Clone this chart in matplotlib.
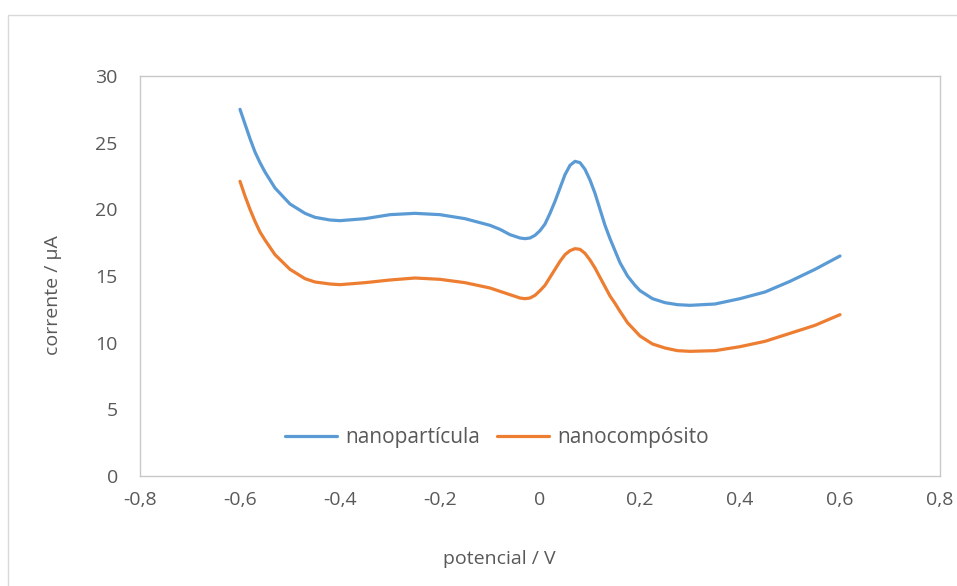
import matplotlib
matplotlib.use('Agg')
import matplotlib.pyplot as plt
from matplotlib.patches import Rectangle

# potential (V) and current (uA)
potencial = [-0.60, -0.59, -0.58, -0.57, -0.56, -0.55, -0.53, -0.50, -0.47, -0.45,
             -0.42, -0.40, -0.35, -0.30, -0.25, -0.20, -0.15, -0.10, -0.08, -0.06,
             -0.04, -0.03, -0.02, -0.01, 0.00, 0.01, 0.02, 0.03, 0.04, 0.05,
             0.06, 0.07, 0.08, 0.09, 0.10, 0.11, 0.12, 0.13, 0.14, 0.15,
             0.16, 0.175, 0.19, 0.20, 0.225, 0.25, 0.275, 0.30, 0.35, 0.40,
             0.45, 0.50, 0.55, 0.60]

nanoparticula = [27.5, 26.4, 25.3, 24.3, 23.5, 22.8, 21.6, 20.4, 19.7, 19.4,
                 19.2, 19.15, 19.3, 19.6, 19.7, 19.6, 19.3, 18.8, 18.5, 18.1,
                 17.85, 17.8, 17.85, 18.05, 18.4, 18.9, 19.7, 20.6, 21.6, 22.6,
                 23.3, 23.6, 23.5, 23.0, 22.2, 21.2, 20.0, 18.8, 17.8, 16.9,
                 16.0, 15.0, 14.3, 13.9, 13.3, 13.0, 12.85, 12.8, 12.9, 13.3,
                 13.8, 14.6, 15.5, 16.5]

nanocomposito = [22.1, 21.0, 20.0, 19.1, 18.3, 17.7, 16.6, 15.5, 14.8, 14.55,
                 14.4, 14.35, 14.5, 14.7, 14.85, 14.75, 14.5, 14.1, 13.85, 13.6,
                 13.35, 13.3, 13.35, 13.55, 13.9, 14.3, 14.9, 15.5, 16.1, 16.6,
                 16.9, 17.05, 17.0, 16.7, 16.2, 15.6, 14.9, 14.2, 13.5, 12.95,
                 12.35, 11.5, 10.9, 10.5, 9.9, 9.6, 9.4, 9.35, 9.4, 9.7,
                 10.1, 10.7, 11.3, 12.1]

x_ticks = [-0.8, -0.6, -0.4, -0.2, 0.0, 0.2, 0.4, 0.6, 0.8]
x_tick_labels = ['-0,8', '-0,6', '-0,4', '-0,2', '0', '0,2', '0,4', '0,6', '0,8']
y_ticks = [0, 5, 10, 15, 20, 25, 30]

plt.rcParams['font.family'] = ['Open Sans', 'DejaVu Sans']
grey = '#595959'

fig = plt.figure(figsize=(9.57, 5.86), dpi=100)
ax = fig.add_axes([140 / 957, 1 - 476 / 586, 800 / 957, 400 / 586])

# outer chart border
fig.patches.append(Rectangle((8 / 957, -0.05), 1.1, 1 - 15 / 586 + 0.05,
                             transform=fig.transFigure, fill=False,
                             edgecolor='#d9d9d9', linewidth=1.0))

ax.plot(potencial, nanoparticula, color='#5b9bd5', linewidth=2.3,
        label='nanopartícula', solid_capstyle='round', solid_joinstyle='round')
ax.plot(potencial, nanocomposito, color='#ed7d31', linewidth=2.3,
        label='nanocompósito', solid_capstyle='round', solid_joinstyle='round')

ax.set_xlim(-0.8, 0.8)
ax.set_ylim(0, 30)
ax.set_xticks(x_ticks)
ax.set_xticklabels(x_tick_labels)
ax.set_yticks(y_ticks)
ax.tick_params(length=0, labelsize=14, labelcolor=grey)
ax.tick_params(axis='x', pad=11)
ax.tick_params(axis='y', pad=16)

for s in ax.spines.values():
    s.set_color('#c8c8c8')
    s.set_linewidth(1.0)

ax.set_xlabel('potencial / V', fontsize=14, color=grey)
ax.set_ylabel('corrente / µA', fontsize=14, color=grey)
ax.xaxis.set_label_coords(0.449, -0.185)
ax.yaxis.set_label_coords(-0.098, 0.4525)

ax.legend(loc='center', bbox_to_anchor=(0.446, 0.095), ncol=2, frameon=False,
          fontsize=15, labelcolor=grey, handlelength=2.5,
          columnspacing=0.8, handletextpad=0.4)

fig.savefig('out.png', dpi=100)
